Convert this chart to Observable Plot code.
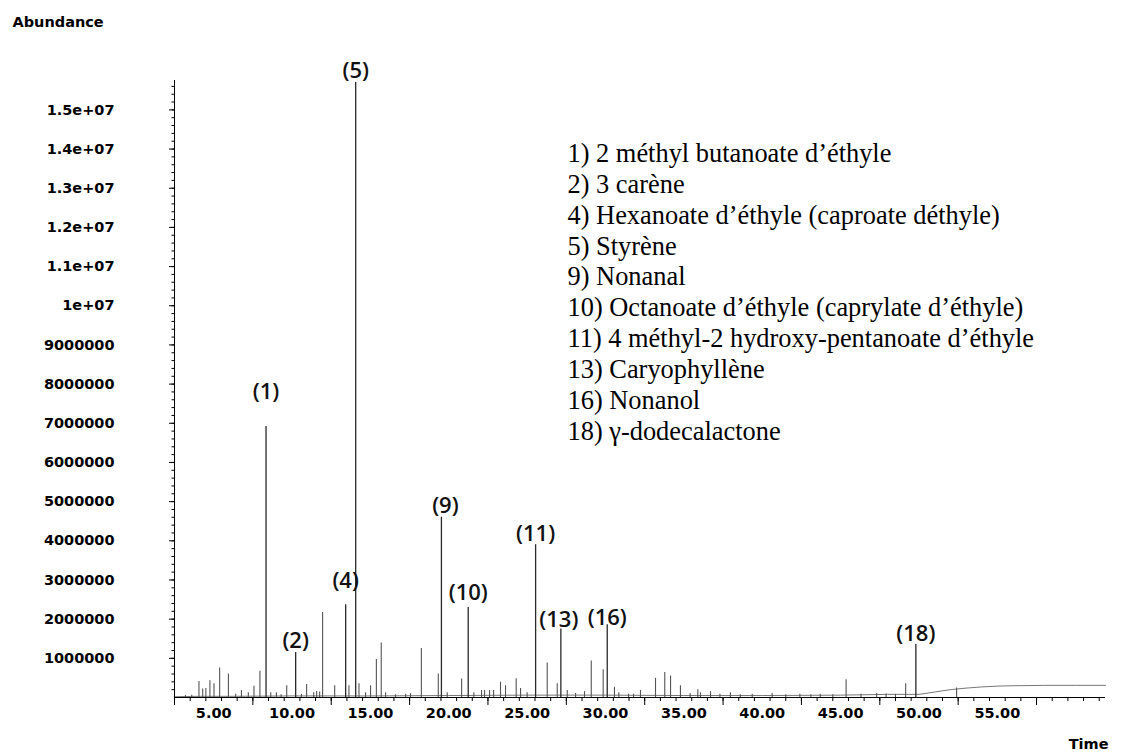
<!DOCTYPE html>
<html>
<head>
<meta charset="utf-8">
<script src="https://cdn.jsdelivr.net/npm/d3@7"></script>
<script src="https://cdn.jsdelivr.net/npm/@observablehq/plot@0.6"></script>
<style>
  html, body { margin: 0; padding: 0; background: #fff; }
  #chart { width: 1130px; height: 753px; }
</style>
</head>
<body>
<div id="chart"></div>
<script>
// Total ion chromatogram: abundance against retention time (min)

// Identified compounds (numbered peaks)
const labelledIds = [1, 2, 4, 5, 9, 10, 11, 13, 16, 18];
const labelledTimes = [8.34, 10.23, 13.42, 14.06, 19.53, 21.24, 25.54, 27.15, 30.11, 49.8];
const labelledHeights = [6.92e6, 1.15e6, 2.37e6, 1.57e7, 4.6e6, 2.3e6, 3.9e6, 1.75e6, 1.86e6, 1.35e6];
const compoundNames = [
  "2 méthyl butanoate d’éthyle",
  "3 carène",
  "Hexanoate d’éthyle (caproate déthyle)",
  "Styrène",
  "Nonanal",
  "Octanoate d’éthyle (caprylate d’éthyle)",
  "4 méthyl-2 hydroxy-pentanoate d’éthyle",
  "Caryophyllène",
  "Nonanol",
  "γ-dodecalactone"
];

// Other (unlabelled) peaks
const otherTimes = [
  3.2, 3.6, 4.06, 4.3, 4.5, 4.76, 5.02, 5.38, 5.94, 6.4, 6.77, 7.21, 7.57, 7.95, 8.64, 9.0, 9.3, 9.66,
  10.6, 10.93, 11.38, 11.57, 11.76, 11.95, 12.72, 13.63, 14.27, 14.69, 15.01, 15.38, 15.69, 15.97,
  16.6, 17.25, 17.56, 18.25, 19.33, 19.9, 20.82, 21.6, 22.09, 22.28, 22.6, 22.86, 23.3, 23.62,
  24.3, 24.58, 25.0, 26.28, 26.92, 27.56, 28.09, 28.66, 29.09, 29.85, 30.57, 30.85,
  31.47, 31.79, 32.23, 33.19, 33.78, 34.15, 34.78, 35.4, 35.89, 36.06, 36.7, 37.3, 37.97, 38.6, 39.36,
  40.63, 41.5, 42.4, 43.1, 43.7, 44.5, 45.35, 46.3, 47.3, 47.9, 48.5, 49.15, 52.4
];
const otherHeights = [
  0.05e6, 0.06e6, 0.41e6, 0.22e6, 0.23e6, 0.43e6, 0.35e6, 0.75e6, 0.6e6, 0.08e6, 0.18e6, 0.12e6, 0.29e6, 0.67e6, 0.12e6, 0.12e6, 0.07e6, 0.3e6,
  0.08e6, 0.33e6, 0.12e6, 0.15e6, 0.14e6, 2.17e6, 0.3e6, 0.3e6, 0.35e6, 0.12e6, 0.3e6, 0.97e6, 1.39e6, 0.12e6,
  0.07e6, 0.08e6, 0.1e6, 1.25e6, 0.6e6, 0.12e6, 0.47e6, 0.12e6, 0.18e6, 0.18e6, 0.18e6, 0.18e6, 0.39e6, 0.3e6,
  0.48e6, 0.23e6, 0.12e6, 0.88e6, 0.35e6, 0.18e6, 0.1e6, 0.15e6, 0.93e6, 0.71e6, 0.26e6, 0.12e6,
  0.08e6, 0.08e6, 0.18e6, 0.49e6, 0.64e6, 0.55e6, 0.3e6, 0.1e6, 0.2e6, 0.12e6, 0.15e6, 0.08e6, 0.12e6, 0.07e6, 0.08e6,
  0.1e6, 0.07e6, 0.08e6, 0.07e6, 0.08e6, 0.07e6, 0.45e6, 0.08e6, 0.1e6, 0.09e6, 0.08e6, 0.35e6, 0.24e6
];

// Baseline drift
const baselineTimes = [2.5, 4, 6, 10, 15, 20, 25, 30, 35, 40, 45, 48, 50, 51, 52, 53, 54, 55, 56, 58, 60, 61.9];
const baselineLevels = [0.02e6, 0.03e6, 0.03e6, 0.04e6, 0.04e6, 0.05e6, 0.06e6, 0.06e6, 0.05e6, 0.05e6, 0.06e6, 0.08e6, 0.08e6, 0.14e6, 0.2e6, 0.24e6, 0.27e6, 0.29e6, 0.3e6, 0.31e6, 0.31e6, 0.31e6];

// Axes
const timeStart = 2.5, timeEnd = 61.9;
const abundanceMax = 1.575e7;
const yTickValues = [1e6, 2e6, 3e6, 4e6, 5e6, 6e6, 7e6, 8e6, 9e6, 1e7, 1.1e7, 1.2e7, 1.3e7, 1.4e7, 1.5e7];
const yTickLabels = ["1000000", "2000000", "3000000", "4000000", "5000000", "6000000", "7000000", "8000000", "9000000",
  "1e+07", "1.1e+07", "1.2e+07", "1.3e+07", "1.4e+07", "1.5e+07"];
const xTickValues = [5, 10, 15, 20, 25, 30, 35, 40, 45, 50, 55];
const xTickLabels = ["5.00", "10.00", "15.00", "20.00", "25.00", "30.00", "35.00", "40.00", "45.00", "50.00", "55.00"];

// Tables built from the arrays above
const labelled = labelledIds.map((id, i) => ({id, t: labelledTimes[i], a: labelledHeights[i], name: compoundNames[i]}));
const others = otherTimes.map((t, i) => ({t, a: otherHeights[i]}));
const baseline = baselineTimes.map((t, i) => ({t, a: baselineLevels[i]}));

// Tick marks: minor every 1 min / 200000, major every 5 min / 1000000
const xMinor = d3.range(timeStart, timeEnd, 1);
const xMajor = d3.range(timeStart, timeEnd, 5);
const yMinor = d3.range(2e5, abundanceMax, 2e5);

// Per-label offsets (px) of the peak numbers from the apex
const labelDy = {1: -34, 4: -24, 5: -12, 10: -14, 13: -9, 16: -7};
const labelDx = {9: 4, 13: -2};

const legendText = labelled.map(d => `${d.id}) ${d.name}`).join("\n");
const fmtY = d => yTickLabels[yTickValues.indexOf(d)];
const fmtX = d => xTickLabels[xTickValues.indexOf(d)];

const axisFont = {fontSize: 14.5, fontWeight: "bold", fill: "#000"};

const chart = Plot.plot({
  width: 1130,
  height: 753,
  marginLeft: 174,
  marginRight: 25,
  marginTop: 80,
  marginBottom: 56,
  style: {fontFamily: "DejaVu Sans", background: "#fff", color: "#000"},
  x: {domain: [timeStart, timeEnd]},
  y: {domain: [0, abundanceMax]},
  marks: [
    // chromatogram trace
    Plot.line(baseline, {x: "t", y: "a", stroke: "#777", strokeWidth: 1}),
    Plot.ruleX(others, {x: "t", y1: 0, y2: "a", stroke: "#555", strokeWidth: 1.1}),
    Plot.ruleX(labelled, {x: "t", y1: 0, y2: "a", stroke: "#2a2a2a", strokeWidth: 1.3}),

    // axis lines
    Plot.ruleY([0], {stroke: "#000", strokeWidth: 1}),
    Plot.ruleX([timeStart], {y1: 0, y2: abundanceMax, stroke: "#000", strokeWidth: 1}),

    // y axis
    Plot.axisY(yMinor, {tickSize: 2.5, text: null, label: null}),
    Plot.axisY(yTickValues, {tickSize: 5, text: null, label: null}),
    Plot.axisY(yTickValues, {tickSize: 0, tickPadding: 60, tickFormat: fmtY, label: null, ...axisFont}),

    // x axis
    Plot.axisX(xMinor, {tickSize: 4, text: null, label: null}),
    Plot.axisX(xMajor, {tickSize: 8, text: null, label: null}),
    Plot.axisX(xTickValues, {tickSize: 0, tickPadding: 10, tickFormat: fmtX, label: null, ...axisFont}),

    // axis titles
    Plot.text(["Abundance"], {text: d => d, frameAnchor: "top-left", dx: -162, dy: -58, textAnchor: "start", lineAnchor: "middle", ...axisFont}),
    Plot.text(["Time"], {text: d => d, frameAnchor: "bottom-right", dx: 3, dy: 47, textAnchor: "end", lineAnchor: "middle", ...axisFont}),

    // peak numbers
    ...labelled.map(d => Plot.text([d], {
      x: "t", y: "a", text: p => `(${p.id})`,
      dy: (labelDy[d.id] ?? -11), dx: (labelDx[d.id] ?? 0),
      lineAnchor: "middle", fontSize: 22, fontWeight: 600, fontFamily: "Open Sans", fill: "#111"
    })),

    // compound list
    Plot.text([legendText], {
      text: d => d, frameAnchor: "top-left", dx: 393, dy: 59.5,
      textAnchor: "start", lineAnchor: "top", lineHeight: 1.17,
      fontSize: 26.4, fontFamily: "Liberation Serif", fill: "#000"
    })
  ]
});

document.getElementById("chart").appendChild(chart);
</script>
</body>
</html>
